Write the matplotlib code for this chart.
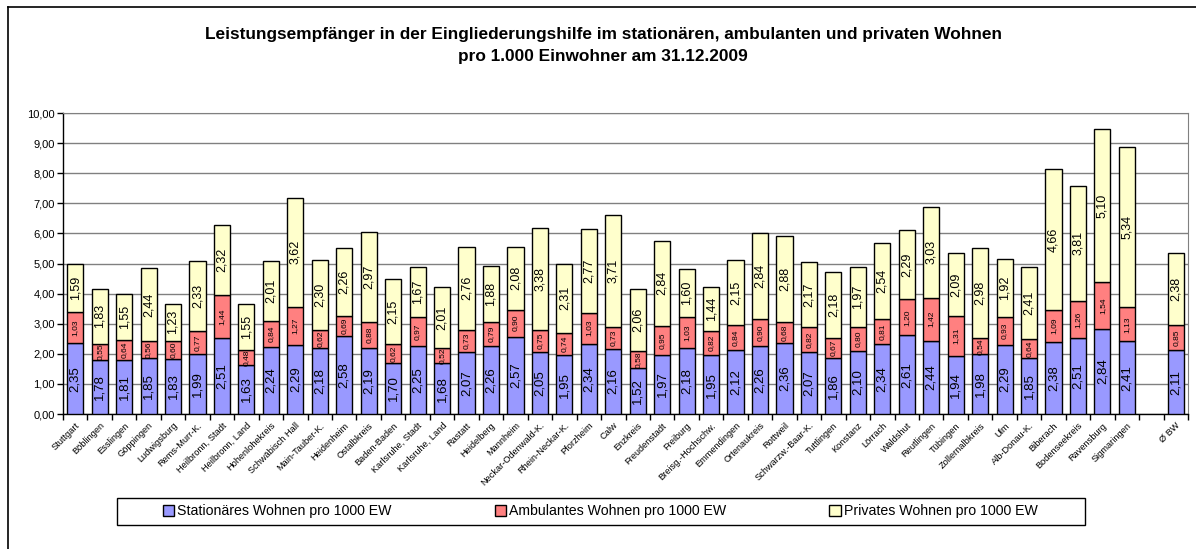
import numpy as np
import matplotlib
matplotlib.use("Agg")
import matplotlib.pyplot as plt
from matplotlib.patches import Patch, Rectangle
from matplotlib.lines import Line2D

plt.rcParams['font.family'] = ['Liberation Sans', 'DejaVu Sans']

# Kreise (Reihenfolge wie im Original), danach der Landesdurchschnitt
kreise = ["Stuttgart", "Böblingen", "Esslingen", "Göppingen", "Ludwigsburg",
          "Rems-Murr-K.", "Heilbronn, Stadt", "Heilbronn, Land", "Hohenlohekreis",
          "Schwäbisch Hall", "Main-Tauber-K.", "Heidenheim", "Ostalbkreis",
          "Baden-Baden", "Karlsruhe, Stadt", "Karlsruhe, Land", "Rastatt",
          "Heidelberg", "Mannheim", "Neckar-Odenwald-K.", "Rhein-Neckar-K.",
          "Pforzheim", "Calw", "Enzkreis", "Freudenstadt", "Freiburg",
          "Breisg.-Hochschw.", "Emmendingen", "Ortenaukreis", "Rottweil",
          "Schwarzw.-Baar-K.", "Tuttlingen", "Konstanz", "Lörrach", "Waldshut",
          "Reutlingen", "Tübingen", "Zollernalbkreis", "Ulm", "Alb-Donau-K.",
          "Biberach", "Bodenseekreis", "Ravensburg", "Sigmaringen"]
stationaer = [2.35, 1.78, 1.81, 1.85, 1.83, 1.99, 2.51, 1.63, 2.24, 2.29, 2.18,
              2.58, 2.19, 1.70, 2.25, 1.68, 2.07, 2.26, 2.57, 2.05, 1.95, 2.34,
              2.16, 1.52, 1.97, 2.18, 1.95, 2.12, 2.26, 2.36, 2.07, 1.86, 2.10,
              2.34, 2.61, 2.44, 1.94, 1.98, 2.29, 1.85, 2.38, 2.51, 2.84, 2.41]
ambulant = [1.03, 0.55, 0.64, 0.56, 0.60, 0.77, 1.44, 0.48, 0.84, 1.27, 0.62,
            0.69, 0.88, 0.62, 0.97, 0.52, 0.73, 0.79, 0.90, 0.75, 0.74, 1.03,
            0.73, 0.58, 0.95, 1.03, 0.82, 0.84, 0.90, 0.68, 0.82, 0.67, 0.80,
            0.81, 1.20, 1.42, 1.31, 0.54, 0.93, 0.64, 1.09, 1.26, 1.54, 1.13]
privat = [1.59, 1.83, 1.55, 2.44, 1.23, 2.33, 2.32, 1.55, 2.01, 3.62, 2.30,
          2.26, 2.97, 2.15, 1.67, 2.01, 2.76, 1.88, 2.08, 3.38, 2.31, 2.77,
          3.71, 2.06, 2.84, 1.60, 1.44, 2.15, 2.84, 2.88, 2.17, 2.18, 1.97,
          2.54, 2.29, 3.03, 2.09, 2.98, 1.92, 2.41, 4.66, 3.81, 5.10, 5.34]

bw_label = "Ø BW"
bw_werte = [2.11, 0.85, 2.38]

serien = ["Stationäres Wohnen pro 1000 EW", "Ambulantes Wohnen pro 1000 EW",
          "Privates Wohnen pro 1000 EW"]
farben = ["#9999FF", "#FF8080", "#FFFFCC"]

W, H = 1196, 549
fig = plt.figure(figsize=(W / 100, H / 100), dpi=100)
ax = fig.add_axes([63 / W, (H - 414) / H, (1188 - 63) / W, (414 - 113) / H])

# eine leere Kategorie zwischen den Kreisen und dem Durchschnitt
labels = kreise + ["", bw_label]
pos = np.arange(len(labels))
xb = np.append(pos[:len(kreise)], pos[-1])
s = np.array(stationaer + [bw_werte[0]])
a = np.array(ambulant + [bw_werte[1]])
p = np.array(privat + [bw_werte[2]])

breite = 0.66
ax.bar(xb, s, breite, color=farben[0], edgecolor="black", linewidth=1, zorder=3)
ax.bar(xb, a, breite, bottom=s, color=farben[1], edgecolor="black", linewidth=1, zorder=3)
ax.bar(xb, p, breite, bottom=s + a, color=farben[2], edgecolor="black", linewidth=1, zorder=3)


def fmt(v):
    return f"{v:.2f}".replace(".", ",")


for x, v1, v2, v3 in zip(xb, s, a, p):
    ax.text(x, v1 / 2, fmt(v1), rotation=90, ha="center", va="center",
            fontsize=9.5, zorder=4)
    ax.text(x, v1 + v2 / 2, fmt(v2), rotation=90, ha="center", va="center",
            fontsize=6, zorder=4)
    ax.text(x, v1 + v2 + v3 / 2, fmt(v3), rotation=90, ha="center", va="center",
            fontsize=9, zorder=4)

ax.set_xlim(-0.5, len(labels) - 0.5)
ax.set_ylim(0, 10)
ax.set_yticks(np.arange(0, 11, 1))
ax.set_yticklabels([fmt(v) for v in np.arange(0, 11, 1)], fontsize=8)
ax.yaxis.grid(True, color="#808080", linewidth=1, zorder=0)

# Striche zwischen den Kategorien, Beschriftung in der Mitte
ax.set_xticks(np.arange(len(labels) + 1) - 0.5)
ax.set_xticklabels([])
ax.set_xticks(pos, minor=True)
ax.set_xticklabels(labels, minor=True, rotation=45, ha="right",
                   rotation_mode="anchor", fontsize=6.7)
ax.tick_params(axis="x", which="minor", length=0, pad=5)
ax.tick_params(axis="x", which="major", length=4, direction="out", width=1)
ax.tick_params(axis="y", length=4, direction="out", width=1, pad=2)

for side in ("top", "right"):
    ax.spines[side].set_color("#808080")
for side in ("left", "bottom"):
    ax.spines[side].set_color("black")
    ax.spines[side].set_linewidth(1)

fig.text(603 / W, 1 - 34 / H,
         "Leistungsempfänger in der Eingliederungshilfe im stationären, ambulanten und privaten Wohnen",
         ha="center", va="center", fontsize=12.4, fontweight="bold")
fig.text(603 / W, 1 - 57 / H, "pro 1.000 Einwohner am 31.12.2009",
         ha="center", va="center", fontsize=12.4, fontweight="bold")

# Rahmen der Legende
fig.patches.append(Rectangle((117 / W, 1 - 525 / H), (1085 - 117) / W, 27 / H,
                             transform=fig.transFigure, fill=False,
                             edgecolor="black", linewidth=1))
handles = [Patch(facecolor=c, edgecolor="black", linewidth=1) for c in farben]
fig.legend(handles, serien, loc="center", bbox_to_anchor=(600 / W, 1 - 511.5 / H),
           ncol=3, frameon=False, fontsize=10.2, handlelength=0.8, handleheight=0.8,
           handletextpad=0.2, columnspacing=7.3)

# Rahmen des Diagramms (oben und links sichtbar)
fig.lines.append(Line2D([8 / W, 1], [1 - 7 / H, 1 - 7 / H], transform=fig.transFigure,
                        color="black", linewidth=1.2))
fig.lines.append(Line2D([8 / W, 8 / W], [0, 1 - 7 / H], transform=fig.transFigure,
                        color="black", linewidth=1.2))

fig.savefig("out.png", dpi=100)
